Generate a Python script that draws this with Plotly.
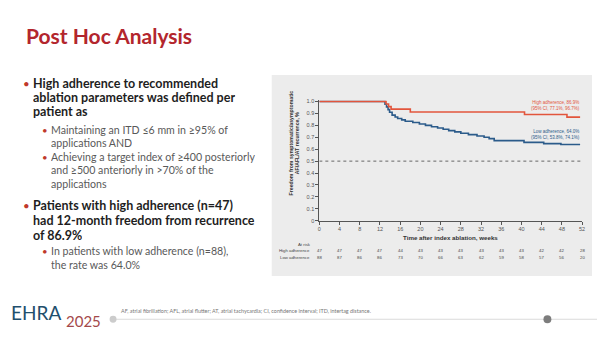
import plotly.graph_objects as go

# ---------------- data ----------------
high_weeks = [0, 13.2, 13.7, 14.2, 18.0, 40.6, 49.0, 51.6]
high_surv = [1.0, 0.979, 0.957, 0.936, 0.912, 0.891, 0.869, 0.869]

low_weeks = [0, 13.0, 13.3, 13.6, 13.9, 14.4, 15.0, 15.5, 16.3, 17.0, 18.5, 19.8, 21.0,
             22.2, 23.4, 24.5, 25.6, 26.8, 28.0, 29.5, 31.2, 32.6, 33.6, 34.6, 40.5,
             44.4, 47.8, 51.6]
low_surv = [1.0, 0.977, 0.955, 0.932, 0.91, 0.886, 0.87, 0.857, 0.846, 0.835, 0.824, 0.812,
            0.80, 0.789, 0.778, 0.767, 0.756, 0.745, 0.734, 0.722, 0.711, 0.70, 0.689,
            0.672, 0.657, 0.647, 0.64, 0.64]

ref_x = [0, 52]
ref_y = [0.5, 0.5]

week_ticks = [0, 4, 8, 12, 16, 20, 24, 28, 32, 36, 40, 44, 48, 52]
y_ticks = [0, 0.1, 0.2, 0.3, 0.4, 0.5, 0.6, 0.7, 0.8, 0.9, 1.0]
risk_high = [47, 47, 47, 47, 44, 43, 43, 43, 43, 43, 43, 42, 42, 28]
risk_low = [88, 87, 86, 86, 73, 70, 66, 63, 62, 59, 58, 57, 56, 20]

high_label = "High adherence, 86.9%<br>(95% CI, 77.1%, 96.7%)"
low_label = "Low adherence, 64.0%<br>(95% CI, 53.8%, 74.1%)"
y_title = "Freedom from symptomatic/asymptomatic<br>AF/AFL/AT recurrence, %"
x_title = "Time after index ablation, weeks"

title_text = "Post Hoc Analysis"
bullet_lines = [
    # (level, text, y_px, has_bullet)
    (1, "High adherence to recommended", 83, True),
    (1, "ablation parameters was defined per", 97, False),
    (1, "patient as", 111, False),
    (2, "Maintaining an ITD ≤6 mm in ≥95% of", 130, True),
    (2, "applications AND", 143.5, False),
    (2, "Achieving a target index of ≥400 posteriorly", 157.5, True),
    (2, "and ≥500 anteriorly in >70% of the", 171, False),
    (2, "applications", 184.5, False),
    (1, "Patients with high adherence (n=47)", 207, True),
    (1, "had 12-month freedom from recurrence", 222, False),
    (1, "of 86.9%", 237, False),
    (2, "In patients with low adherence (n=88),", 253, True),
    (2, "the rate was 64.0%", 266.5, False),
]
footnote = ("AF, atrial fibrillation; AFL, atrial flutter; AT, atrial tachycardia; "
            "CI, confidence interval; ITD, intertag distance.")

W, H = 600, 340
RED = "#e2553c"
BLUE = "#2b5b8a"
AX = "#555555"
CF = "Liberation Sans, Arial, sans-serif"
SF = "Lato, 'Open Sans', sans-serif"


def py(p):
    return 1 - p / H


def px(p):
    return p / W


fig = go.Figure()
fig.add_trace(go.Scatter(x=ref_x, y=ref_y, mode="lines",
                         line=dict(color="#666666", width=1, dash="dot"), hoverinfo="skip"))
fig.add_trace(go.Scatter(x=low_weeks, y=low_surv, mode="lines", line_shape="hv",
                         line=dict(color=BLUE, width=1.6)))
fig.add_trace(go.Scatter(x=high_weeks, y=high_surv, mode="lines", line_shape="hv",
                         line=dict(color=RED, width=1.6)))

ann = []
# chart annotations
ann.append(dict(x=52, y=py(105.5), xref="x", yref="paper", text=high_label, showarrow=False,
                xanchor="right", yanchor="middle", align="right",
                font=dict(family=CF, size=4.5, color=RED)))
ann.append(dict(x=52, y=py(134), xref="x", yref="paper", text=low_label, showarrow=False,
                xanchor="right", yanchor="middle", align="right",
                font=dict(family=CF, size=4.5, color=BLUE)))
ann.append(dict(x=px(295), y=py(143), xref="paper", yref="paper", text="<b>" + y_title + "</b>",
                showarrow=False, textangle=-90, xanchor="center", yanchor="middle",
                font=dict(family=CF, size=5.2, color="#333333")))
ann.append(dict(x=26, y=py(239), xref="x", yref="paper", text="<b>" + x_title + "</b>",
                showarrow=False, xanchor="center", yanchor="middle",
                font=dict(family=CF, size=6.2, color="#333333")))
ann.append(dict(x=px(305), y=py(246), xref="paper", yref="paper", text="At risk",
                showarrow=False, xanchor="center", yanchor="middle",
                font=dict(family=CF, size=4.3, color="#444444")))
ann.append(dict(x=px(313), y=py(252), xref="paper", yref="paper", text="High adherence",
                showarrow=False, xanchor="right", yanchor="middle",
                font=dict(family=CF, size=4.3, color="#444444")))
ann.append(dict(x=px(313), y=py(259), xref="paper", yref="paper", text="Low adherence",
                showarrow=False, xanchor="right", yanchor="middle",
                font=dict(family=CF, size=4.3, color="#444444")))
for wk, h, l in zip(week_ticks, risk_high, risk_low):
    ann.append(dict(x=wk, y=py(252), xref="x", yref="paper", text=str(h), showarrow=False,
                    xanchor="center", yanchor="middle",
                    font=dict(family=CF, size=4.3, color="#444444")))
    ann.append(dict(x=wk, y=py(259), xref="x", yref="paper", text=str(l), showarrow=False,
                    xanchor="center", yanchor="middle",
                    font=dict(family=CF, size=4.3, color="#444444")))

# slide text
ann.append(dict(x=px(22), y=py(34), xref="paper", yref="paper", text="<b>" + title_text + "</b>",
                showarrow=False, xanchor="left", yanchor="middle",
                font=dict(family=SF, size=21, color="#b3262d")))
for level, txt, ypix, bullet in bullet_lines:
    if level == 1:
        tx, bx, size, col, t, hh = 29, 19, 12.5, "#1e1e1e", "<b>" + txt + "</b>", 13
    else:
        tx, bx, size, col, t, hh = 47, 38, 10.6, "#595959", txt, 12
    ann.append(dict(x=px(tx), y=py(ypix), xref="paper", yref="paper", text=t, showarrow=False,
                    xanchor="left", yanchor="middle", height=hh,
                    font=dict(family=SF, size=size, color=col)))
    if bullet:
        ann.append(dict(x=px(bx), y=py(ypix), xref="paper", yref="paper", text="•",
                        showarrow=False, xanchor="left", yanchor="middle", height=hh,
                        font=dict(family=SF, size=size - 1, color="#c0392b")))

# footer
ann.append(dict(x=px(7), y=py(315), xref="paper", yref="paper", text="EHRA", showarrow=False,
                xanchor="left", yanchor="middle", font=dict(family=SF, size=19, color="#1f4f6d")))
ann.append(dict(x=px(63), y=py(324), xref="paper", yref="paper", text="2025", showarrow=False,
                xanchor="left", yanchor="middle", font=dict(family=SF, size=15, color="#a4494b")))
ann.append(dict(x=px(118), y=py(313.5), xref="paper", yref="paper", text=footnote,
                showarrow=False, xanchor="left", yanchor="middle",
                font=dict(family=SF, size=5.4, color="#777777")))

shapes = [
    dict(type="rect", xref="paper", yref="paper", x0=px(272), x1=px(595), y0=py(278), y1=py(74),
         fillcolor="#ececec", line=dict(width=0), layer="below"),
    dict(type="line", xref="paper", yref="paper", x0=px(112), x1=1, y0=py(322), y1=py(322),
         line=dict(color="#dadada", width=1.2), layer="below"),
    dict(type="circle", xref="paper", yref="paper", x0=px(108.5), x1=px(115.5),
         y0=py(325.5), y1=py(318.5), fillcolor="#cccccc", line=dict(width=0)),
    dict(type="circle", xref="paper", yref="paper", x0=px(546), x1=px(554),
         y0=py(326), y1=py(318), fillcolor="#7d7d7d", line=dict(width=0)),
]

fig.update_layout(
    width=W, height=H, margin=dict(l=0, r=0, t=0, b=0),
    paper_bgcolor="white", plot_bgcolor="rgba(0,0,0,0)",
    showlegend=False, annotations=ann, shapes=shapes,
    xaxis=dict(domain=[px(320), px(585)], range=[0, 52], tickvals=week_ticks,
               showline=True, linecolor=AX, linewidth=1, ticks="outside", ticklen=3,
               tickcolor=AX, tickwidth=1, showgrid=False, zeroline=False,
               tickfont=dict(family=CF, size=5.5, color="#555555")),
    yaxis=dict(domain=[py(222), py(99.8)], range=[0, 1.01], tickvals=y_ticks,
               ticktext=[("%.1f" % v) if v > 0 else "0" for v in y_ticks],
               showline=True, linecolor=AX, linewidth=1, ticks="outside", ticklen=3,
               tickcolor=AX, tickwidth=1, showgrid=False, zeroline=False,
               tickfont=dict(family=CF, size=5.5, color="#555555")),
)

fig.write_html("out.html")
